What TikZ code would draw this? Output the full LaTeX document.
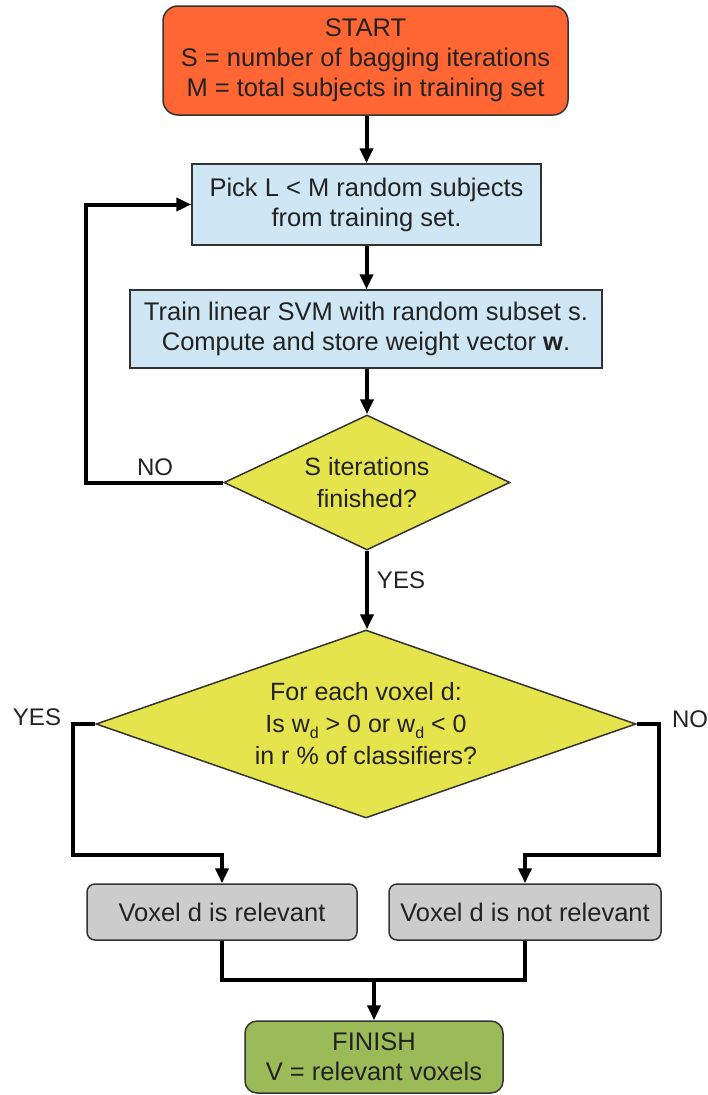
\documentclass[tikz,border=0pt]{standalone}
\usepackage{fontspec}
\setmainfont{Liberation Sans}
\usetikzlibrary{arrows.meta,shapes.geometric,calc}
\definecolor{startfill}{RGB}{255,102,51}
\definecolor{procfill}{RGB}{207,231,245}
\definecolor{decfill}{RGB}{230,228,76}
\definecolor{resfill}{RGB}{204,204,204}
\definecolor{endfill}{RGB}{155,187,89}
\definecolor{edgegray}{RGB}{51,51,51}
\definecolor{txt}{RGB}{34,34,34}
% lowered subscript as used in the voxel test
\newcommand{\lowsub}[1]{\raisebox{-6pt}{\fontsize{16}{16}\selectfont #1}}
\tikzset{
  box/.style={draw=edgegray, line width=1.5pt, align=center, inner sep=0pt,
    text=txt, font=\fontsize{25.5}{30}\selectfont},
  rbox/.style={box, rounded corners=#1},
  dia/.style={draw=edgegray, line width=1.5pt, diamond, inner sep=0pt, fill=decfill},
  diatext/.style={align=center, text=txt, font=\fontsize{25}{32}\selectfont},
  flow/.style={line width=4pt, -{Triangle[length=15pt,width=13pt]}},
  wire/.style={line width=4pt},
  lbl/.style={text=txt, font=\fontsize{24}{28}\selectfont, inner sep=0pt}
}
\begin{document}
\begin{tikzpicture}[x=1pt,y=-1pt]
\useasboundingbox (0,0) rectangle (708,1095);

% process nodes
\node[rbox=15pt, fill=startfill, minimum width=405pt, minimum height=109pt] (start) at (365.5,60.5)
  {START\\S = number of bagging iterations\\M = total subjects in training set};
\node[box, fill=procfill, minimum width=349pt, minimum height=81pt] (pick) at (366.5,204.5)
  {Pick L < M random subjects\\from training set.};
\node[box, fill=procfill, minimum width=472pt, minimum height=78pt] (train) at (366,329)
  {Train linear SVM with random subset s.\\Compute and store weight vector \textbf{w}.};

% decisions
\node[dia, minimum width=286pt, minimum height=135pt] (d1) at (367,482.5) {};
\node[diatext] at (d1) {S iterations\\finished?};
\node[dia, minimum width=540pt, minimum height=188pt] (d2) at (366,724) {};
\node[diatext] at (d2) {For each voxel d:\\Is w\lowsub{d} > 0 or w\lowsub{d} < 0\\in r \% of classifiers?};

% outcomes
\node[rbox=8pt, fill=resfill, minimum width=270pt, minimum height=56pt] (rel) at (222,912)
  {Voxel d is relevant};
\node[rbox=8pt, fill=resfill, minimum width=272pt, minimum height=56pt] (nrel) at (525,912)
  {Voxel d is not relevant};
\node[rbox=12pt, fill=endfill, minimum width=258pt, minimum height=72pt] (fin) at (374,1057)
  {FINISH\\V = relevant voxels};

% connectors
\draw[flow] (start.south -| pick.north) -- (pick.north);
\draw[flow] (pick.south) -- (pick.south |- train.north);
\draw[flow] (d1.north |- train.south) -- (d1.north);
\draw[flow] (d1.west) -- ++(-137,0) |- (pick.west);
\draw[flow] (d1.south) -- (d1.south |- d2.north);

\coordinate (split) at (0,855);
\draw[flow] (d2.west) -- ++(-22,0) |- (rel.north |- split) -- (rel.north);
\draw[flow] (d2.east) -- ++(22,0) |- (nrel.north |- split) -- (nrel.north);

\coordinate (merge) at (374,980);
\draw[wire] (rel.south) |- (merge) -| (nrel.south);
\draw[flow] (merge) -- (fin.north);

% branch labels
\node[lbl] at (155,467) {NO};
\node[lbl] at (401,580) {YES};
\node[lbl] at (37,717) {YES};
\node[lbl] at (690,719) {NO};
\end{tikzpicture}
\end{document}
